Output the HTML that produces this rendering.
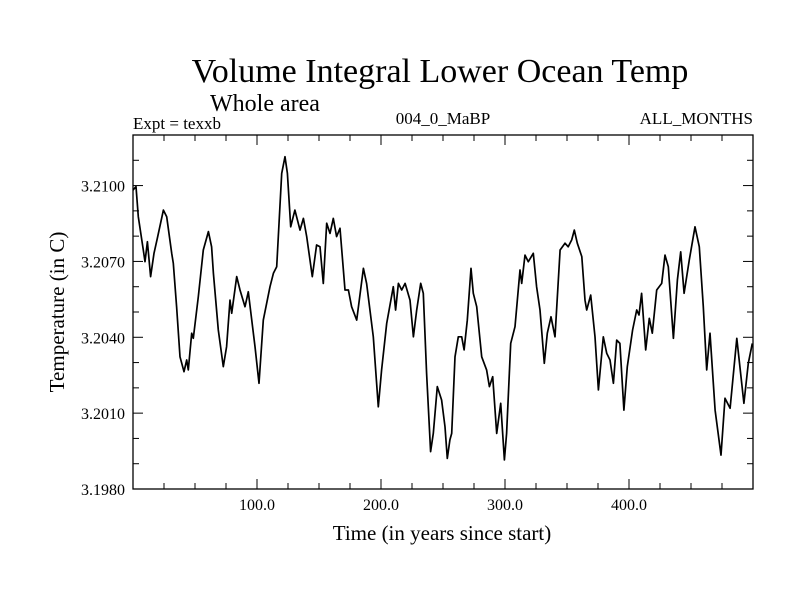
<!DOCTYPE html>
<html><head><meta charset="utf-8"><style>
body{margin:0;background:#fff;}
svg text{font-family:"Liberation Serif",serif;fill:#000;}
</style></head><body>
<svg id="chart" width="800" height="600" xmlns="http://www.w3.org/2000/svg">
<rect width="800" height="600" fill="#fff"/>
<text x="440" y="82" font-size="34" text-anchor="middle">Volume Integral Lower Ocean Temp</text>
<text x="210" y="111" font-size="24">Whole area</text>
<text x="133" y="129" font-size="17">Expt = texxb</text>
<text x="443" y="124" font-size="17" text-anchor="middle">004_0_MaBP</text>
<text x="753" y="124" font-size="17" text-anchor="end">ALL_MONTHS</text>
<text x="442" y="540" font-size="21" text-anchor="middle">Time (in years since start)</text>
<text x="0" y="0" font-size="21" text-anchor="middle" transform="translate(64,312) rotate(-90)">Temperature (in C)</text>
<g id="axes"></g>
<g id="plot"></g>
</svg>
<script>
const years=[0,2.4,4.3,8.3,9.7,11.6,14.2,16.9,19.6,24.5,27.2,31.2,32.5,35.2,37.9,41.1,43.3,44.6,47.3,48.6,52.7,56.7,60.8,63.4,64.8,68.8,72.8,75.5,78.2,79.6,83.6,86.3,90.3,93,98.4,101.6,105.1,110.5,113.2,115.9,119.9,122.6,124.5,127.2,130.6,134.7,137.4,140.1,144.6,148.1,150.8,153.5,156.2,158.9,161.5,164.2,166.9,171,173.7,176.3,180.4,185.8,188.4,193.8,197.8,200.5,204.6,209.9,211.8,214,216.7,219.4,223.4,226.1,228.8,232,234.1,236.8,240,242.2,245.4,248.9,251.6,253.5,255.6,257,259.7,262.3,265.1,267,269.6,272.6,274.4,277.2,281.2,285.2,287.4,290.1,293.3,296.5,299.5,301.3,304.6,308.1,312.1,313.5,316.1,318.8,322.8,325.5,328.2,331.7,334.1,337.1,340.3,344.4,348.4,351,353.8,355.9,358.3,361.9,364.5,365.9,369.1,372.6,375.3,379.3,382,384.7,387.4,390.1,392.7,395.9,398.6,402.9,406.2,408.1,410.2,413.5,416.4,418.8,422.3,426.4,429,431.7,435.8,439,441.7,444.4,448.6,453.2,456.7,459.9,462.7,465.3,469.4,474.2,477.4,481.5,486.9,492.7,496.2,499.4];
const temps=[3.20982,3.20996,3.20877,3.20745,3.20699,3.20778,3.2064,3.20732,3.20791,3.20903,3.20877,3.20732,3.20693,3.20521,3.20323,3.20264,3.2031,3.20271,3.20416,3.20396,3.2056,3.20745,3.20818,3.20758,3.20653,3.20429,3.20284,3.20363,3.20547,3.20495,3.2064,3.20587,3.20521,3.2058,3.20363,3.20218,3.20468,3.206,3.20653,3.20679,3.21048,3.21114,3.21048,3.20837,3.20903,3.20824,3.2087,3.20798,3.2064,3.20765,3.20758,3.20613,3.20851,3.20811,3.2087,3.20798,3.20831,3.20587,3.20587,3.20521,3.20468,3.20673,3.20613,3.20402,3.20125,3.20271,3.20455,3.206,3.20508,3.20613,3.20587,3.20613,3.20547,3.20402,3.20508,3.20613,3.20574,3.20257,3.19948,3.2002,3.20205,3.20152,3.20046,3.19921,3.19994,3.2002,3.20323,3.20402,3.20402,3.2035,3.20468,3.20673,3.20574,3.20521,3.20323,3.20271,3.20205,3.20244,3.2002,3.20139,3.19915,3.2002,3.20376,3.20442,3.20666,3.20613,3.20725,3.20699,3.20732,3.206,3.20508,3.20297,3.20416,3.20481,3.20402,3.20745,3.20772,3.20758,3.20785,3.20824,3.20772,3.20719,3.20547,3.20508,3.20567,3.20402,3.20192,3.20402,3.20337,3.2031,3.20218,3.20389,3.20376,3.20112,3.20284,3.20429,3.20508,3.20488,3.20574,3.2035,3.20475,3.20416,3.20587,3.20613,3.20725,3.20679,3.20396,3.20627,3.20738,3.20574,3.20706,3.20837,3.20758,3.20521,3.20271,3.20416,3.20112,3.19934,3.20159,3.20119,3.20396,3.20139,3.20297,3.20376];
const yTickValues=[3.198,3.201,3.204,3.207,3.210];
const yTickLabels=["3.1980","3.2010","3.2040","3.2070","3.2100"];
const xTickValues=[100,200,300,400];
const xTickLabels=["100.0","200.0","300.0","400.0"];
const L=133,R=753,T=135,B=489,X0=0,X1=500,Y0=3.198,Y1=3.212;
const sx=v=>L+(v-X0)/(X1-X0)*(R-L);
const sy=v=>B-(v-Y0)/(Y1-Y0)*(B-T);
const NS="http://www.w3.org/2000/svg";
const axes=document.getElementById('axes'),plot=document.getElementById('plot');
function mk(tag,attrs,parent){const e=document.createElementNS(NS,tag);for(const k in attrs)e.setAttribute(k,attrs[k]);parent.appendChild(e);return e;}
const frame=mk('rect',{x:L,y:T,width:R-L,height:B-T,fill:'none',stroke:'#000','stroke-width':1.3},axes);


for(let v=25;v<500;v+=25){const major=v%100===0,len=major?10:6,x=sx(v);
 const t1=mk('line',{x1:x,x2:x,y1:B,y2:B-len,stroke:'#000','stroke-width':1},axes);
 
 
 const t2=mk('line',{x1:x,x2:x,y1:T,y2:T+len,stroke:'#000','stroke-width':1},axes);
 
 }
xTickValues.forEach((v,i)=>{const t=mk('text',{x:sx(v),y:B+21,'font-size':16,'text-anchor':'middle'},axes);t.textContent=xTickLabels[i];
 
 });
for(let k=0;k<=14;k++){const v=Y0+k*0.001,major=k%3===0,len=major?10:6,y=sy(v);
 const t1=mk('line',{x1:L,x2:L+len,y1:y,y2:y,stroke:'#000','stroke-width':1},axes);
 
 
 const t2=mk('line',{x1:R,x2:R-len,y1:y,y2:y,stroke:'#000','stroke-width':1},axes);
 
 }
yTickValues.forEach((v,i)=>{const t=mk('text',{x:125,y:sy(v)+6,'font-size':16,'text-anchor':'end'},axes);t.textContent=yTickLabels[i];
 
 });
const pts=years.map((yr,i)=>sx(yr).toFixed(1)+','+sy(temps[i]).toFixed(1)).join(' ');
const line=mk('polyline',{points:pts,fill:'none',stroke:'#000','stroke-width':1.7,'stroke-linejoin':'round'},plot);


</script>
</body></html>
